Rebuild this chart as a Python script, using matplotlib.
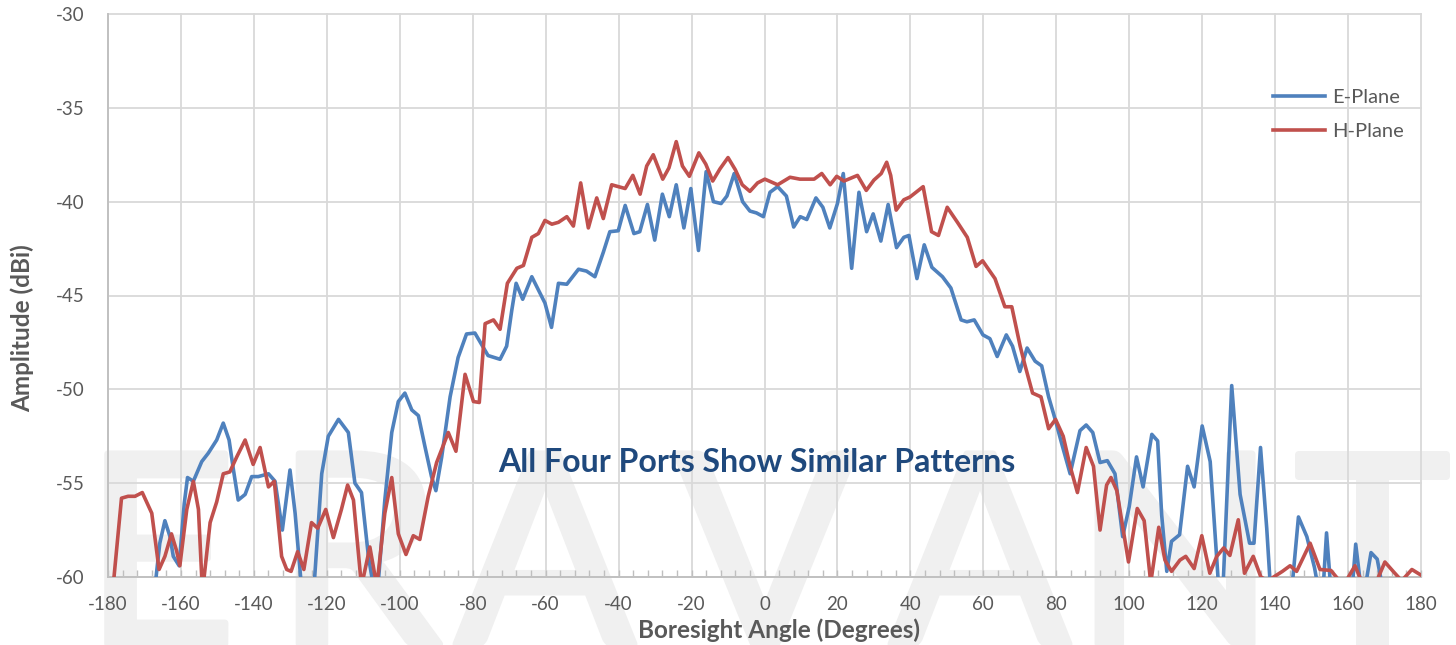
import numpy as np
import matplotlib
matplotlib.use('Agg')
import matplotlib.pyplot as plt
import matplotlib.patheffects as pe
from matplotlib.ticker import MultipleLocator

plt.rcParams['font.family'] = ['Lato', 'DejaVu Sans']
plt.rcParams['axes.unicode_minus'] = False

# E-Plane (blue), angle in degrees / amplitude in dBi
e_ang = [-180, -167.1, -165.8, -164.4, -163.0, -162.1, -160.5, -159.1, -158.2, -156.6,
         -154.3, -152.5, -150.2, -148.4, -146.8, -145.6, -144.3, -142.4, -140.6, -138.8,
         -136.0, -134.2, -132.2, -130.1, -128.7, -127.1, -125.1, -123.4, -121.4, -119.6,
         -116.8, -114.1, -112.3, -110.5, -108.6, -106.8, -105.9, -104.1, -102.2, -100.4,
         -98.6, -96.7, -94.9, -93.1, -91.3, -90.1, -88.5, -86.2, -84.0, -81.7,
         -79.4, -77.6, -75.8, -72.5, -70.7, -69.3, -68.1, -66.3, -63.8, -62.0,
         -60.2, -58.4, -56.5, -54.2, -51.0, -48.8, -46.5, -44.2, -42.4, -40.1,
         -38.2, -35.8, -34.2, -32.1, -30.1, -28.0, -26.1, -24.2, -22.1, -20.2,
         -18.1, -16.0, -14.0, -11.9, -10.3, -8.3, -6.0, -4.0, -2.2, -0.3,
         1.5, 3.6, 6.0, 8.0, 9.8, 11.6, 14.1, 16.0, 17.9, 20.0,
         21.6, 23.9, 25.9, 28.0, 29.8, 31.9, 33.9, 36.2, 38.2, 39.6,
         41.8, 43.8, 45.9, 48.8, 51.1, 53.9, 55.5, 57.5, 59.9, 61.8,
         63.8, 66.3, 68.0, 70.0, 72.0, 74.2, 76.0, 77.9, 79.7, 81.5,
         83.8, 86.5, 88.2, 90.0, 92.0, 94.0, 96.1, 98.2, 100.0, 102.0,
         103.8, 106.2, 107.8, 108.9, 110.3, 111.6, 113.8, 116.0, 117.8, 120.0,
         122.2, 124.4, 125.1, 125.8, 128.1, 130.4, 133.0, 134.2, 136.0, 137.7,
         138.6, 141.5, 144.8, 146.4, 148.7, 150.8, 152.2, 153.3, 154.1, 155.1,
         158.0, 161.3, 162.1, 163.3, 164.2, 165.0, 166.3, 168.0, 169.2, 172.0,
         180]
e_val = [-63, -60.5, -58.2, -57.0, -57.85, -58.9, -59.4, -56.1, -54.7, -54.9,
         -53.85, -53.4, -52.7, -51.8, -52.7, -54.3, -55.9, -55.6, -54.65, -54.65,
         -54.5, -54.9, -57.5, -54.3, -56.6, -60.2, -62, -60.2, -54.5, -52.5,
         -51.6, -52.3, -55.0, -55.5, -58.9, -61, -60.3, -55.9, -52.3, -50.65,
         -50.2, -51.1, -51.4, -53.05, -54.65, -55.4, -53.6, -50.4, -48.3, -47.05,
         -47.0, -47.6, -48.2, -48.4, -47.7, -45.8, -44.35, -45.2, -44.0, -44.7,
         -45.4, -46.7, -44.35, -44.4, -43.6, -43.7, -44.0, -42.7, -41.6, -41.55,
         -40.2, -41.7, -41.6, -40.15, -42.05, -39.6, -40.8, -39.1, -41.4, -39.3,
         -42.6, -38.4, -40.0, -40.1, -39.7, -38.5, -40.0, -40.5, -40.6, -40.8,
         -39.5, -39.2, -39.7, -41.35, -40.8, -40.95, -39.8, -40.3, -41.4, -40.1,
         -38.5, -43.55, -39.5, -41.6, -40.65, -42.1, -40.15, -42.45, -41.9, -41.8,
         -44.1, -42.3, -43.5, -44.0, -44.6, -46.3, -46.4, -46.3, -47.1, -47.3,
         -48.25, -47.1, -47.7, -49.05, -47.8, -48.5, -48.75, -50.4, -51.6, -52.9,
         -54.5, -52.2, -51.9, -52.3, -53.9, -53.8, -54.5, -57.85, -56.25, -53.6,
         -55.2, -52.4, -52.75, -56.7, -59.7, -58.1, -57.75, -54.1, -55.2, -51.95,
         -53.85, -60.2, -62, -60.2, -49.8, -55.6, -58.2, -58.2, -53.1, -57.4,
         -60.2, -63, -60.2, -56.8, -57.85, -59.5, -61, -60.2, -57.65, -60.2,
         -63, -60.2, -58.25, -60.2, -61, -60.2, -58.7, -59.05, -60.3, -63,
         -63]

# H-Plane (red)
h_ang = [-180, -178.5, -176.3, -174.5, -172.6, -170.6, -168.0, -166.0, -164.4, -162.6,
         -161.2, -160.3, -158.4, -156.6, -155.2, -154.1, -152.0, -150.2, -148.4, -146.6,
         -144.7, -142.4, -140.2, -138.3, -136.0, -134.4, -132.4, -131.0, -129.8, -128.0,
         -126.3, -124.2, -122.5, -120.3, -118.2, -116.0, -114.3, -112.7, -110.5, -108.2,
         -106.3, -104.1, -102.2, -100.4, -98.3, -96.3, -94.5, -92.2, -89.9, -86.7,
         -84.6, -82.1, -79.8, -78.2, -76.6, -74.3, -72.5, -70.5, -67.9, -66.1,
         -63.8, -62.0, -60.2, -58.3, -56.5, -54.2, -52.4, -50.4, -48.3, -46.0,
         -44.2, -41.9, -38.2, -36.1, -34.1, -32.3, -30.5, -27.9, -26.2, -24.2,
         -22.5, -20.6, -18.0, -16.1, -14.2, -12.2, -10.0, -8.0, -6.1, -4.0,
         -1.9, 0.1, 3.6, 7.0, 9.7, 13.6, 15.7, 18.0, 19.8, 21.8,
         25.5, 27.9, 30.0, 32.0, 33.5, 34.6, 36.1, 38.2, 39.9, 43.5,
         45.8, 47.7, 50.1, 52.9, 55.6, 58.0, 59.8, 63.2, 65.9, 67.8,
         70.1, 71.4, 73.5, 75.8, 77.9, 79.8, 81.9, 83.8, 85.8, 88.2,
         90.2, 92.0, 93.8, 95.0, 96.6, 99.8, 102.2, 104.1, 105.9, 108.1,
         109.8, 111.6, 113.9, 115.5, 117.8, 119.9, 122.1, 124.0, 125.9, 127.6,
         129.9, 131.6, 134.0, 136.1, 138.0, 142.0, 144.1, 145.9, 149.6, 152.3,
         155.3, 157.2, 159.8, 161.9, 163.6, 167.9, 170.1, 172.6, 174.7, 177.5,
         180]
h_val = [-62, -60.3, -55.8, -55.7, -55.7, -55.5, -56.6, -59.6, -58.9, -57.7,
         -58.6, -59.4, -56.4, -54.9, -56.4, -60.8, -57.1, -56.0, -54.5, -54.4,
         -53.6, -52.7, -54.0, -53.1, -55.2, -54.9, -58.9, -59.6, -59.7, -58.65,
         -59.6, -57.1, -57.4, -56.4, -57.9, -56.4, -55.1, -55.9, -60.5, -58.4,
         -60.5, -56.6, -54.7, -57.7, -58.8, -57.8, -58.0, -55.7, -53.9, -52.3,
         -53.3, -49.2, -50.65, -50.7, -46.5, -46.3, -46.8, -44.35, -43.55, -43.4,
         -41.9, -41.7, -41.0, -41.2, -41.1, -40.8, -41.3, -39.0, -41.4, -39.8,
         -40.9, -39.1, -39.3, -38.6, -39.6, -38.1, -37.5, -38.8, -38.2, -36.8,
         -38.1, -38.65, -37.4, -38.0, -38.9, -38.25, -37.65, -38.3, -39.1, -39.45,
         -39.0, -38.8, -39.1, -38.7, -38.8, -38.8, -38.5, -39.1, -38.65, -38.9,
         -38.6, -39.4, -38.85, -38.5, -37.9, -38.6, -40.45, -39.9, -39.75, -39.2,
         -41.6, -41.8, -40.3, -41.1, -41.9, -43.45, -43.15, -44.1, -45.6, -45.6,
         -47.7, -48.7, -50.2, -50.4, -52.1, -51.6, -52.5, -54.1, -55.5, -53.1,
         -54.1, -57.5, -55.1, -54.7, -55.4, -59.2, -56.35, -57.0, -60.3, -57.35,
         -59.1, -59.7, -59.1, -58.9, -59.55, -57.8, -59.8, -58.9, -58.45, -58.85,
         -56.95, -59.8, -58.9, -60.0, -60.2, -59.7, -59.4, -59.7, -58.2, -59.6,
         -59.65, -60.1, -60.1, -59.4, -60.2, -60.2, -59.2, -59.75, -60.2, -59.6,
         -59.9]

x_ticks = np.arange(-180, 181, 20)
y_ticks = np.arange(-60, -29, 5)

W, H = 1456, 645
fig = plt.figure(figsize=(W / 100, H / 100), dpi=100)
fig.patch.set_facecolor('white')

# faint company watermark behind the plot
wm_letters = ['E', 'R', 'A', 'V', 'A', 'N', 'T']
wm_x = [160, 358, 545, 765, 980, 1175, 1372]
for ch, px in zip(wm_letters, wm_x):
    fig.text(px / W, 1 / H, ch, fontsize=191, color='#F0F0F0', ha='center',
             va='baseline', zorder=-5, family='Lato',
             path_effects=[pe.withStroke(linewidth=5, foreground='#F0F0F0')])

ax = fig.add_axes([108 / W, 1 - 577 / H, (1421 - 108) / W, (577 - 14) / H])
ax.patch.set_alpha(0)

ax.plot(e_ang, e_val, color='#4F81BD', lw=2.6, label='E-Plane', solid_joinstyle='round', zorder=3)
ax.plot(h_ang, h_val, color='#C0504D', lw=2.6, label='H-Plane', solid_joinstyle='round', zorder=3)

ax.set_xlim(-180, 180)
ax.set_ylim(-60, -30)
ax.set_xticks(x_ticks)
ax.set_yticks(y_ticks)
ax.xaxis.set_minor_locator(MultipleLocator(4))
ax.grid(True, color='#D9D9D9', lw=1.3, zorder=0)
ax.set_axisbelow(True)
for g in ax.get_xgridlines() + ax.get_ygridlines():
    g.set_clip_on(False)

for s in ['top', 'right']:
    ax.spines[s].set_visible(False)
for s in ['left', 'bottom']:
    ax.spines[s].set_color('#BFBFBF')
    ax.spines[s].set_linewidth(1.3)

ax.tick_params(axis='x', which='both', direction='in', colors='#BFBFBF', labelcolor='#595959',
               labelsize=13.5, pad=14, length=5, width=1)
ax.tick_params(axis='y', length=0, labelcolor='#595959', labelsize=13.5, pad=17)

ax.text(-2.1, -53.9, 'All Four Ports Show Similar Patterns', color='#1F497D', fontsize=23,
        fontweight='bold', ha='center', va='center', zorder=4)

fig.text(779 / W, 1 - 630 / H, 'Boresight Angle (Degrees)', color='#595959', fontsize=17.5,
         fontweight='bold', ha='center', va='center')
fig.text(22 / W, 1 - 328 / H, 'Amplitude (dBi)', color='#595959', fontsize=17.5,
         fontweight='bold', ha='center', va='center', rotation=90)

ax.legend(loc='upper left', bbox_to_anchor=(1273 / W, 1 - 89 / H), bbox_transform=fig.transFigure,
          frameon=False, fontsize=14.5, handlelength=2.6, handletextpad=0.35, labelspacing=0.85,
          borderpad=0, borderaxespad=0, labelcolor='#595959')

fig.savefig('out.png', dpi=100)
